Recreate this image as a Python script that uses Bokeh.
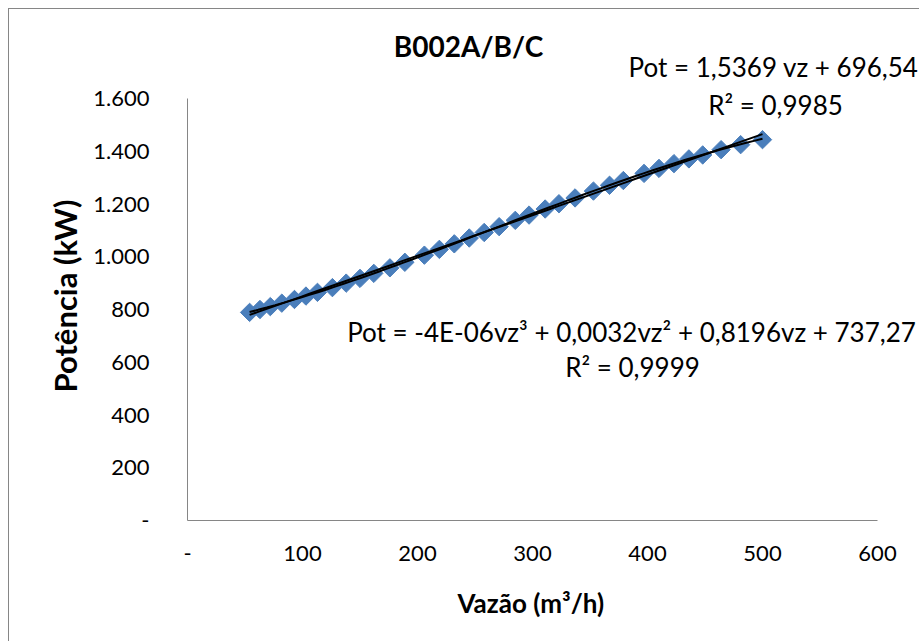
import math
from bokeh.plotting import figure
from bokeh.models import Label, FixedTicker, Title
from bokeh.embed import file_html
from bokeh.resources import INLINE

# ---- data ----
vazao = [54, 63, 72, 82, 93, 103, 113, 126, 138, 150, 162, 176, 189, 206, 219,
         232, 245, 258, 271, 285, 297, 311, 323, 337, 353, 367, 379, 397, 410,
         423, 436, 448, 464, 481, 500]
potencia = [789, 800, 811, 824, 838, 851, 865, 883, 900, 918, 937, 958, 979, 1006,
            1028, 1049, 1071, 1092, 1114, 1138, 1158, 1181, 1201, 1223, 1249, 1271,
            1289, 1316, 1335, 1353, 1371, 1386, 1406, 1425, 1444]

lin_coef = [1.5369, 696.54]                      # Pot = a*vz + b
cub_coef = [-4e-06, 0.0032, 0.8196, 737.27]      # Pot = a vz^3 + b vz^2 + c vz + d

x_ticks = [0, 100, 200, 300, 400, 500, 600]
x_tick_labels = ["-", "100", "200", "300", "400", "500", "600"]
y_ticks = [0, 200, 400, 600, 800, 1000, 1200, 1400, 1600]
y_tick_labels = ["-", "200", "400", "600", "800", "1.000", "1.200", "1.400", "1.600"]

title_text = "B002A/B/C"
x_title = "Vazão (m³/h)"
y_title = "Potência (kW)"
lin_eq = ["Pot = 1,5369 vz + 696,54", "R² = 0,9985"]
cub_eq = ["Pot = -4E-06vz³ + 0,0032vz² + 0,8196vz + 737,27", "R² = 0,9999"]

FONT = "Lato"
AXIS_GRAY = "#868686"
BLUE = "#4A7EBB"

# page geometry: axis origin at page (187, 520); 690 px per 600 on x, 422 px per 1600 on y
X0, Y0, XPX, YPX = 187, 520, 690, 422
W, H = 911, 633
LEFT, BOTTOM = 178, 122
x_max = 600 * (W - LEFT) / XPX
y_max = 1600 * (H - BOTTOM) / YPX

p = figure(width=W, height=H, x_range=(0, x_max), y_range=(0, y_max),
           output_backend="svg", toolbar_location=None,
           min_border_left=LEFT, min_border_right=0, min_border_top=0,
           min_border_bottom=BOTTOM)
p.margin = (8, 0, 0, 8)
p.styles = {"border-left": "1px solid #868686", "border-top": "1px solid #868686"}
p.outline_line_color = None
p.grid.visible = False

for ax in (p.xaxis[0], p.yaxis[0]):
    ax.axis_line_color = AXIS_GRAY
    ax.axis_line_width = 1
    ax.major_tick_out = 0
    ax.major_tick_in = 0
    ax.minor_tick_out = 0
    ax.minor_tick_in = 0
    ax.major_label_text_font = FONT
    ax.major_label_text_font_size = "22px"
    ax.major_label_text_color = "#000000"

p.xaxis[0].ticker = FixedTicker(ticks=x_ticks)
p.xaxis[0].bounds = (0, 600)
p.xaxis[0].major_label_overrides = {t: l for t, l in zip(x_ticks, x_tick_labels)}
p.xaxis[0].major_label_standoff = 25

p.yaxis[0].ticker = FixedTicker(ticks=y_ticks)
p.yaxis[0].bounds = (0, 1600)
p.yaxis[0].major_label_overrides = {t: l for t, l in zip(y_ticks, y_tick_labels)}
p.yaxis[0].major_label_standoff = 38

# small blank spacer between the x tick labels and the x title
p.add_layout(Title(text=" ", standoff=0, text_font=FONT, text_font_size="8px"), "below")

# axis titles as Title objects (so they can be offset along the axis)
p.add_layout(Title(text=y_title, align="left", offset=Y0 - 392, standoff=13,
                   text_font=FONT, text_font_style="bold", text_font_size="31px",
                   text_color="black"), "left")
p.add_layout(Title(text=x_title, align="left", vertical_align="top",
                   offset=457 - X0, standoff=22,
                   text_font=FONT, text_font_style="bold", text_font_size="26px",
                   text_color="black"), "below")

# markers
p.scatter(vazao, potencia, marker="square", angle=math.pi / 4, size=13,
          fill_color=BLUE, line_color=BLUE)

# trendlines (from the fitted coefficients)
x0, x1 = min(vazao), max(vazao)
n = 60
xs = [x0 + (x1 - x0) * i / n for i in range(n + 1)]
y_lin = [lin_coef[0] * x + lin_coef[1] for x in xs]
y_cub = [cub_coef[0] * x ** 3 + cub_coef[1] * x ** 2 + cub_coef[2] * x + cub_coef[3] for x in xs]
p.line(xs, y_lin, line_color="black", line_width=2)
p.line(xs, y_cub, line_color="black", line_width=2)

def px_to_x(px):
    return (px - X0) / XPX * 600

def py_to_y(py):
    return (Y0 - py) / YPX * 1600

def add_label(text, cx, cy, size, bold=False):
    p.add_layout(Label(x=px_to_x(cx), y=py_to_y(cy), text=text,
                       text_font=FONT, text_font_size=size,
                       text_font_style="bold" if bold else "normal",
                       text_align="center", text_baseline="middle",
                       text_color="black"))

add_label(title_text, 468, 45, "28px", bold=True)
add_label(lin_eq[0], 773, 66, "26px")
add_label(lin_eq[1], 775, 104, "26px")
add_label(cub_eq[0], 631, 331, "26px")
add_label(cub_eq[1], 632, 366, "26px")

open("out.html", "w").write(file_html(p, INLINE))
